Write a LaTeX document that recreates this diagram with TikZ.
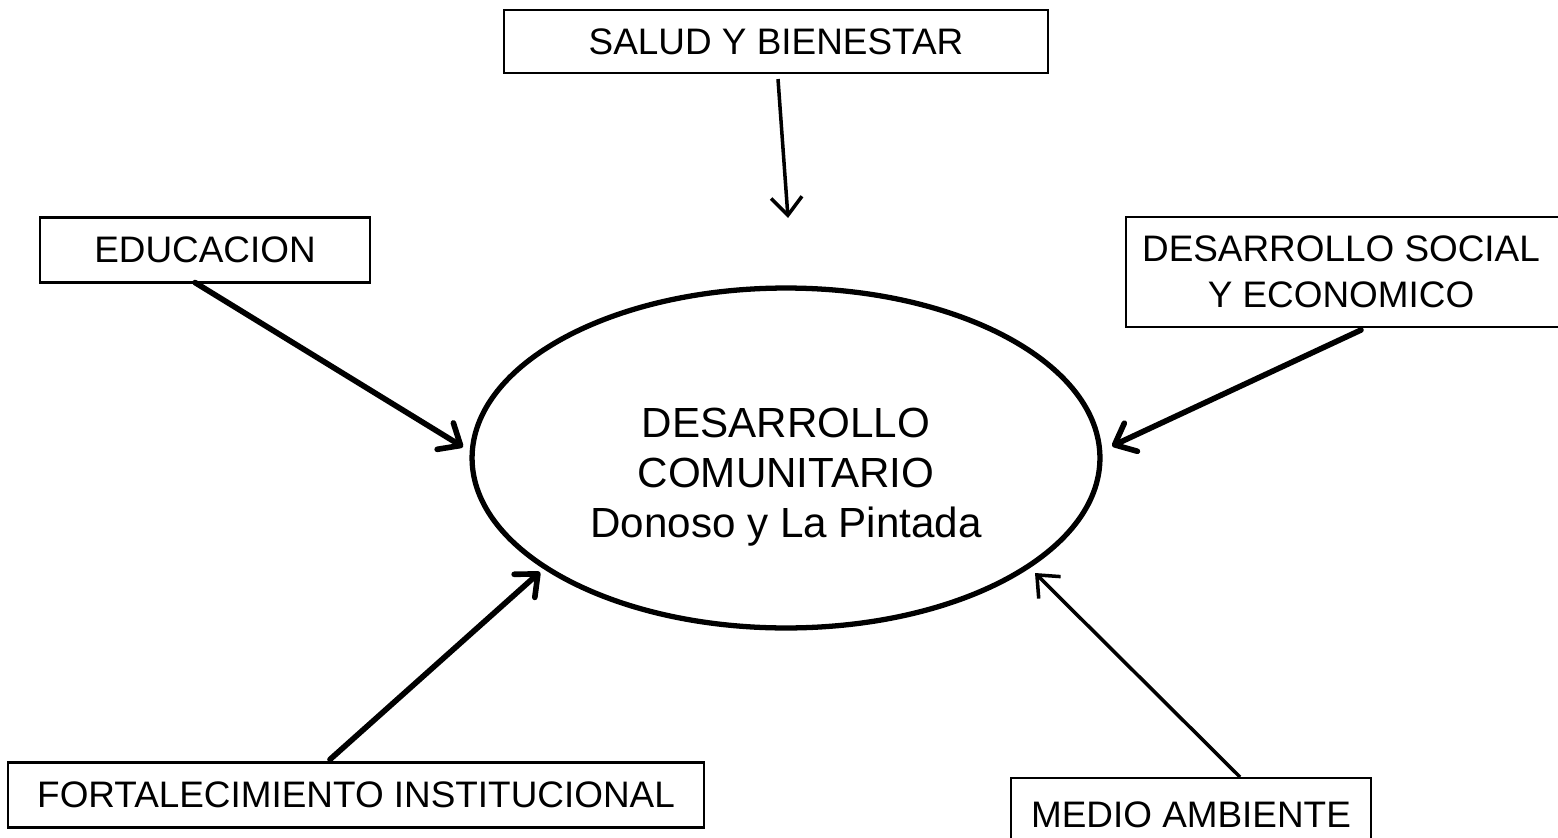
\documentclass[tikz,border=0pt]{standalone}
\usepackage{fontspec}
\setmainfont{Liberation Sans}
\usetikzlibrary{arrows.meta,shapes.geometric}
\tikzset{
  boxnode/.style={draw=black, line width=1.2pt, inner sep=0pt, font=\fontsize{21}{26}\selectfont, align=center},
  txtnode/.style={inner sep=0pt, font=\fontsize{21}{26}\selectfont, align=center},
  boxline/.style={draw=black, line width=1.2pt},
  bigarrow/.style={line width=3.2pt, line cap=round, -{Straight Barb[length=0.36cm, width=0.62cm, line width=3.2pt, round]}},
  thinarrow/.style={line width=2pt, -{Straight Barb[length=0.36cm, width=0.62cm, line width=2pt]}},
  centerell/.style={draw=black, line width=3pt, ellipse, minimum width=12.56cm, minimum height=6.8cm, inner sep=0pt},
  centertxt/.style={inner sep=0pt, font=\fontsize{24}{28.5}\selectfont, align=center}
}
\begin{document}
\begin{tikzpicture}[x=0.02cm, y=-0.02cm]
\useasboundingbox (0,0) rectangle (1558,838);
\fill[white] (0,0) rectangle (1558,838);

% centre
\node[centerell] (c) at (786,458) {};
\node[centertxt] (ct) at (786,477) {DESARROLLO\\COMUNITARIO\\Donoso y La Pintada};

% boxes
\node[boxnode, minimum width=10.88cm, minimum height=1.26cm] (sal) at (776,41.5) {SALUD Y BIENESTAR};
\node[boxnode, minimum width=6.6cm, minimum height=1.3cm] (edu) at (205,250) {EDUCACION};
\node[boxnode, minimum width=13.92cm, minimum height=1.3cm] (fort) at (356,795) {FORTALECIMIENTO INSTITUCIONAL};

\draw[boxline] (1126,217) rectangle (1600,327);
\node[txtnode] (ds) at (1341,272) {DESARROLLO SOCIAL\\Y ECONOMICO};
\draw[boxline, line width=1.6pt] (1011,778) rectangle (1371,870);
\node[txtnode] (ma) at (1191,815) {MEDIO AMBIENTE};

% connector ends
\coordinate (salt) at (788,218);
\coordinate (edut) at (463,447);
\coordinate (dsb) at (1361,330);
\coordinate (dst) at (1112,446);
\coordinate (fortt) at (540,572);
\coordinate (mab) at (1240,777);
\coordinate (mat) at (1035,573);

% arrows
\draw[thinarrow] ([shift={(2,5)}]sal.south) -- (salt);
\draw[bigarrow] ([shift={(-10,-1)}]edu.south) -- (edut);
\draw[bigarrow] (dsb) -- (dst);
\draw[bigarrow] ([shift={(-26,-2)}]fort.north) -- (fortt);
\draw[thinarrow] (mab) -- (mat);
\end{tikzpicture}
\end{document}
